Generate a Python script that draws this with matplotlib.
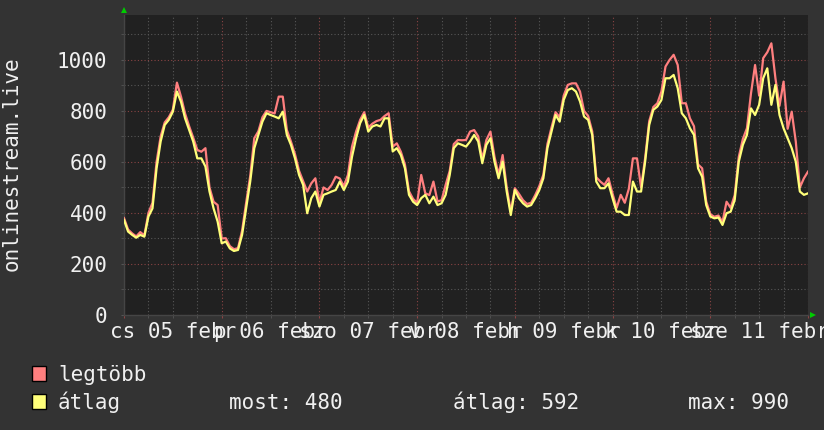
import matplotlib
matplotlib.use('Agg')
import matplotlib.pyplot as plt
from matplotlib.patches import Rectangle
from matplotlib.ticker import MultipleLocator
from matplotlib.transforms import ScaledTranslation

# hourly samples over one week (hour 0 = cs 05 febr 00:00)
hours = list(range(169))

legtobb = [380, 335, 320, 308, 325, 312, 400, 440, 600, 700, 755, 775, 805, 911, 856, 790,
           740, 695, 647, 640, 654, 500, 444, 431, 300, 301, 270, 258, 262, 330, 440, 545,
           693, 720, 775, 800, 795, 790, 856, 856, 725, 680, 630, 565, 525, 484, 516, 536,
           440, 500, 490, 510, 542, 535, 505, 549, 660, 719, 765, 795, 735, 750, 760, 765,
           780, 791, 660, 673, 640, 590, 485, 455, 440, 549, 477, 470, 523, 445, 450, 510,
           565, 670, 686, 685, 686, 719, 725, 700, 610, 686, 719, 620, 550, 627, 500, 405,
           497, 475, 450, 435, 440, 470, 505, 550, 670, 735, 795, 775, 860, 902, 908, 908,
           876, 800, 780, 720, 540, 523, 510, 536, 475, 420, 471, 440, 495, 614, 614, 500,
           615, 760, 815, 830, 876, 974, 1000, 1020, 980, 830, 830, 771, 740, 590, 575, 445,
           395, 385, 390, 365, 444, 420, 470, 620, 690, 732, 869, 980, 860, 1007, 1030, 1065,
           928, 820, 915, 730, 797, 680, 500, 536, 562]

atlag = [373, 327, 314, 303, 314, 307, 386, 418, 575, 680, 745, 765, 797, 876, 836, 771,
         725, 680, 614, 614, 582, 484, 418, 366, 281, 288, 261, 251, 255, 314, 418, 523,
         654, 706, 758, 791, 784, 778, 771, 797, 706, 667, 614, 549, 510, 399, 458, 484,
         425, 471, 477, 484, 490, 523, 490, 523, 620, 693, 752, 784, 719, 739, 745, 739,
         771, 771, 641, 654, 627, 575, 471, 444, 431, 458, 471, 438, 464, 431, 438, 471,
         549, 654, 673, 667, 660, 680, 706, 680, 595, 667, 693, 601, 536, 601, 484, 392,
         490, 458, 438, 425, 431, 458, 490, 536, 654, 719, 784, 758, 843, 882, 889, 876,
         837, 778, 765, 706, 523, 497, 497, 516, 458, 405, 405, 392, 392, 523, 484, 484,
         601, 745, 804, 817, 843, 928, 928, 941, 889, 791, 771, 732, 706, 575, 542, 431,
         386, 379, 382, 353, 399, 405, 451, 601, 667, 706, 810, 784, 824, 928, 967, 824,
         902, 784, 732, 693, 654, 601, 484, 471, 477]

day_labels = ['cs 05 febr', 'p 06 febr', 'szo 07 febr', 'v 08 febr',
              'h 09 febr', 'k 10 febr', 'sze 11 febr']
y_ticks = [0, 200, 400, 600, 800, 1000]
legend_names = ['legtöbb', 'átlag']
stats = ['most: 480', 'átlag: 592', 'max: 990']

W, H = 824, 430
BG = '#333333'
CANVAS = '#212121'
FG = '#f0f0f0'
MAXC = '#ff7f7f'
AVGC = '#ffff7a'
FS = 15

plt.rcParams['font.family'] = 'DejaVu Sans Mono'

fig = plt.figure(figsize=(W / 100, H / 100), dpi=100, facecolor=BG)
# plot area in pixels: x 124..808, y 15..315
ax = fig.add_axes([124 / W, (H - 315) / H, 684 / W, 300 / H])
ax.set_facecolor(CANVAS)

ax.plot(hours, legtobb, color=MAXC, lw=1.6, zorder=3)
ax.plot(hours, atlag, color=AVGC, lw=1.6, zorder=4)

ax.set_xlim(0, 168)
ax.set_ylim(0, 1176)

# grid: 6 hour / 100 minor (grey), day / 200 major (red)
ax.xaxis.set_major_locator(MultipleLocator(24))
ax.xaxis.set_minor_locator(MultipleLocator(6))
ax.yaxis.set_major_locator(MultipleLocator(200))
ax.yaxis.set_minor_locator(MultipleLocator(100))
ax.grid(which='minor', color='#575757', linestyle=(0, (1, 2)), lw=0.8, zorder=1)
ax.grid(which='major', color='#8a4444', linestyle=(0, (1, 2)), lw=0.8, zorder=2)
ax.set_axisbelow(True)

ax.set_yticks(y_ticks)
ax.set_yticklabels([str(v) for v in y_ticks])
ax.set_xticklabels([])
ax.tick_params(axis='y', which='major', colors='#555555', labelcolor=FG,
               labelsize=FS, length=2, pad=10)
ax.tick_params(axis='y', which='minor', colors='#555555', length=2)
ax.tick_params(axis='x', which='major', colors='#8a4444', length=2)
ax.tick_params(axis='x', which='minor', colors='#555555', length=2)

for s in ['top', 'right']:
    ax.spines[s].set_visible(False)
for s in ['left', 'bottom']:
    ax.spines[s].set_color('#454545')
    ax.spines[s].set_linewidth(1)

# day labels centred on noon (they overlap, as in the original)
for i, lbl in enumerate(day_labels):
    ax.annotate(lbl, xy=(24 * i + 12, 0), xycoords=('data', 'axes fraction'),
                xytext=(0, -16.5), textcoords='offset points',
                ha='center', va='baseline', color=FG, fontsize=FS)

# axis arrows
up = ax.plot([0], [1.0], marker='^', color='#00cc00', ms=5, clip_on=False,
             zorder=6, markeredgewidth=0)[0]
up.set_transform(ax.transAxes + ScaledTranslation(0, 0.05, fig.dpi_scale_trans))
right = ax.plot([1.0], [0], marker='>', color='#00cc00', ms=5, clip_on=False,
                zorder=6, markeredgewidth=0)[0]
right.set_transform(ax.transAxes + ScaledTranslation(0.05, 0, fig.dpi_scale_trans))

fig.text(12 / W, 1 - 164 / H, 'onlinestream.live', rotation=90, ha='center',
         va='center', color=FG, fontsize=FS)

# legend
def fx(px):
    return px / W

def fy(py):
    return 1 - py / H

for name, col, base in [(legend_names[0], MAXC, 381), (legend_names[1], AVGC, 409)]:
    fig.patches.append(Rectangle((fx(32), fy(base)), 14 / W, 15 / H, transform=fig.transFigure,
                                 facecolor=col, edgecolor='black', lw=1))
    fig.text(fx(58), fy(base), name, ha='left', va='baseline', color=FG, fontsize=FS)

for txt, x in zip(stats, [229, 453, 688]):
    fig.text(fx(x), fy(409), txt, ha='left', va='baseline', color=FG, fontsize=FS)

fig.savefig('out.png', dpi=100, facecolor=BG)
